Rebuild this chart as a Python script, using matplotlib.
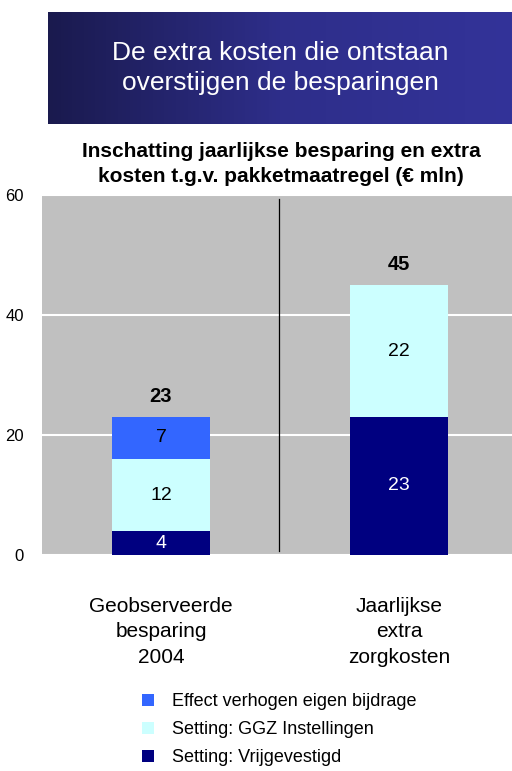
import numpy as np
import matplotlib
matplotlib.use('Agg')
import matplotlib.pyplot as plt
from matplotlib.colors import LinearSegmentedColormap

plt.rcParams['font.family'] = ['Liberation Sans', 'DejaVu Sans']

# data
categories = ['Geobserveerde\nbesparing\n2004', 'Jaarlijkse\nextra\nzorgkosten']
vrijgevestigd = [4, 23]
ggz = [12, 22]
eigen_bijdrage = [7, 0]
series_names = ['Effect verhogen eigen bijdrage', 'Setting: GGZ Instellingen', 'Setting: Vrijgevestigd']
yticks = [0, 20, 40, 60]

c_dark = '#000080'
c_light = '#ccffff'
c_blue = '#3366ff'

fig = plt.figure(figsize=(5.12, 7.71), dpi=100)

# banner with gradient
W, H = 512, 771
bax = fig.add_axes([48 / W, 1 - 124 / H, (512 - 48) / W, (124 - 12) / H])
cmap = LinearSegmentedColormap.from_list('ban', ['#1a1a4e', '#2e2e8a', '#333399'])
bax.imshow(np.linspace(0, 1, 256)[None, :], aspect='auto', cmap=cmap, extent=[0, 1, 0, 1])
bax.set_axis_off()
bax.text(0.5, 0.5, 'De extra kosten die ontstaan\noverstijgen de besparingen', color='white',
         ha='center', va='center', fontsize=19, linespacing=1.35)

fig.text(281 / W, 1 - 164 / H, 'Inschatting jaarlijkse besparing en extra\nkosten t.g.v. pakketmaatregel (€ mln)',
         ha='center', va='center', fontsize=15, fontweight='bold', linespacing=1.35)

ax = fig.add_axes([42 / W, 1 - 555 / H, (512 - 42) / W, (555 - 195) / H])
ax.set_facecolor('#c0c0c0')
x = np.arange(len(categories))
w = 0.41
b1 = ax.bar(x, vrijgevestigd, w, color=c_dark, zorder=3)
b2 = ax.bar(x, ggz, w, bottom=vrijgevestigd, color=c_light, zorder=3)
bottom3 = np.array(vrijgevestigd) + np.array(ggz)
b3 = ax.bar(x, eigen_bijdrage, w, bottom=bottom3, color=c_blue, zorder=3)

for i in range(len(x)):
    segs = [(vrijgevestigd[i], 0, 'white'), (ggz[i], vrijgevestigd[i], 'black'),
            (eigen_bijdrage[i], bottom3[i], 'black')]
    for v, b, col in segs:
        if v > 0:
            ax.text(x[i], b + v / 2, str(v), ha='center', va='center', color=col, fontsize=14, zorder=4)
    total = vrijgevestigd[i] + ggz[i] + eigen_bijdrage[i]
    ax.text(x[i], total + 3.5, str(total), ha='center', va='center', fontsize=14.5, fontweight='bold', zorder=4)

ax.axvline(0.496, ymin=0.01, ymax=0.99, color='black', lw=0.9, zorder=4)
ax.set_xlim(-0.5, 1.475)
ax.set_ylim(0, 60)
ax.set_yticks(yticks)
ax.yaxis.grid(True, color='white', lw=1.5, zorder=1)
ax.tick_params(axis='y', length=0, labelsize=12, pad=13)
ax.set_xticks(x)
ax.set_xticklabels(categories, fontsize=15, linespacing=1.45)
ax.tick_params(axis='x', length=0, pad=30)
ax.get_xticklabels()[0].set_x(-0.04)
for s in ax.spines.values():
    s.set_visible(False)

fig.legend([b3, b2, b1], series_names, loc='upper left', bbox_to_anchor=(126 / W, 1 - 677 / H),
           frameon=False, fontsize=13, handlelength=0.65, handleheight=0.65, labelspacing=0.6,
           handletextpad=1.0)

fig.savefig('out.png', dpi=100)
